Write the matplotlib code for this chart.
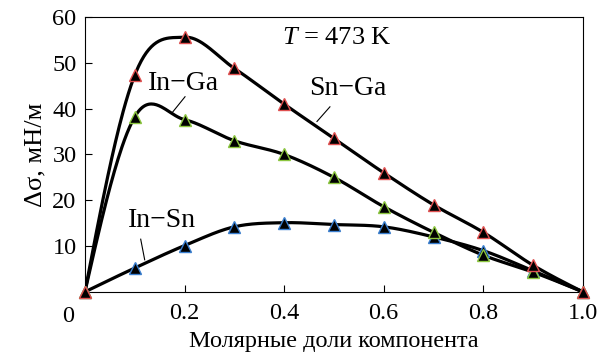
import numpy as np
import matplotlib.pyplot as plt

plt.rcParams['font.family'] = ['Liberation Serif', 'DejaVu Serif']
plt.rcParams['mathtext.fontset'] = 'custom'
plt.rcParams['mathtext.it'] = 'Liberation Serif:italic'
plt.rcParams['mathtext.rm'] = 'Liberation Serif'

x = [0.0, 0.1, 0.2, 0.3, 0.4, 0.5, 0.6, 0.7, 0.8, 0.9, 1.0]
sn_ga = [0.0, 47.3, 55.6, 48.8, 41.0, 33.5, 26.0, 19.0, 13.0, 5.8, 0.0]
in_ga = [0.0, 38.2, 37.6, 33.0, 30.0, 25.0, 18.6, 13.0, 8.0, 4.3, 0.0]
in_sn = [0.0, 5.2, 10.1, 14.2, 15.1, 14.7, 14.2, 12.0, 9.0, 4.6, 0.0]
xticks = [0.2, 0.4, 0.6, 0.8, 1.0]
yticks = [10, 20, 30, 40, 50, 60]


def smooth(xs, ys, n=40):
    # Catmull-Rom style Hermite curve through the points, only for the drawn line
    xs = np.asarray(xs, float)
    ys = np.asarray(ys, float)
    m = np.gradient(ys, xs)
    d0 = (ys[1] - ys[0]) / (xs[1] - xs[0])
    d1 = (ys[-1] - ys[-2]) / (xs[-1] - xs[-2])
    m[0] = (3 * d0 - m[1]) / 2
    m[-1] = (3 * d1 - m[-2]) / 2
    px, py = [], []
    for i in range(len(xs) - 1):
        h = xs[i + 1] - xs[i]
        t = np.linspace(0, 1, n)
        h00 = 2 * t**3 - 3 * t**2 + 1
        h10 = t**3 - 2 * t**2 + t
        h01 = -2 * t**3 + 3 * t**2
        h11 = t**3 - t**2
        px.append(xs[i] + t * h)
        py.append(h00 * ys[i] + h10 * h * m[i] + h01 * ys[i + 1] + h11 * h * m[i + 1])
    return np.concatenate(px), np.concatenate(py)


fig = plt.figure(figsize=(6.11, 3.63), dpi=100)
ax = fig.add_axes([0.139, 0.196, 0.815, 0.757])

for ys, edge in [(in_sn, '#3a7fd0'), (in_ga, '#8cc63f'), (sn_ga, '#e05050')]:
    xx, yy = smooth(x, ys)
    ax.plot(xx, yy, color='black', lw=2.3, zorder=2)
    ax.plot(x, ys, ls='none', marker='^', ms=8, mfc='black',
            mec=edge, mew=1.0, zorder=3, clip_on=False)

ax.set_xlim(0, 1.0)
ax.set_ylim(0, 60)
ax.set_xticks(xticks)
ax.set_xticklabels(['0.2', '0.4', '0.6', '0.8', '1.0'])
ax.set_yticks(yticks)
ax.tick_params(direction='in', labelsize=17.5, length=5, width=0.8, pad=6)
ax.tick_params(axis='x', pad=8)
for s in ax.spines.values():
    s.set_linewidth(0.8)

ax.text(-0.034, -0.05, '0', transform=ax.transAxes, fontsize=17.5,
        ha='center', va='top')
ax.set_xlabel('Молярные доли компонента', fontsize=17.5, labelpad=5)
ax.set_ylabel('Δσ, мН/м', fontsize=19, labelpad=4)

ax.text(0.395, 55.4, r'$T$ = 473 K', fontsize=19, va='center')
ax.text(0.127, 45.4, 'In−Ga', fontsize=20, va='center')
ax.plot([0.201, 0.175], [42.6, 39.1], color='black', lw=0.8)
ax.text(0.45, 44.3, 'Sn−Ga', fontsize=20, va='center')
ax.plot([0.492, 0.466], [40.4, 37.2], color='black', lw=0.8)
ax.text(0.086, 15.6, 'In−Sn', fontsize=20, va='center')
ax.plot([0.112, 0.12], [11.5, 7.0], color='black', lw=0.8)

fig.savefig('out.png', dpi=100)
